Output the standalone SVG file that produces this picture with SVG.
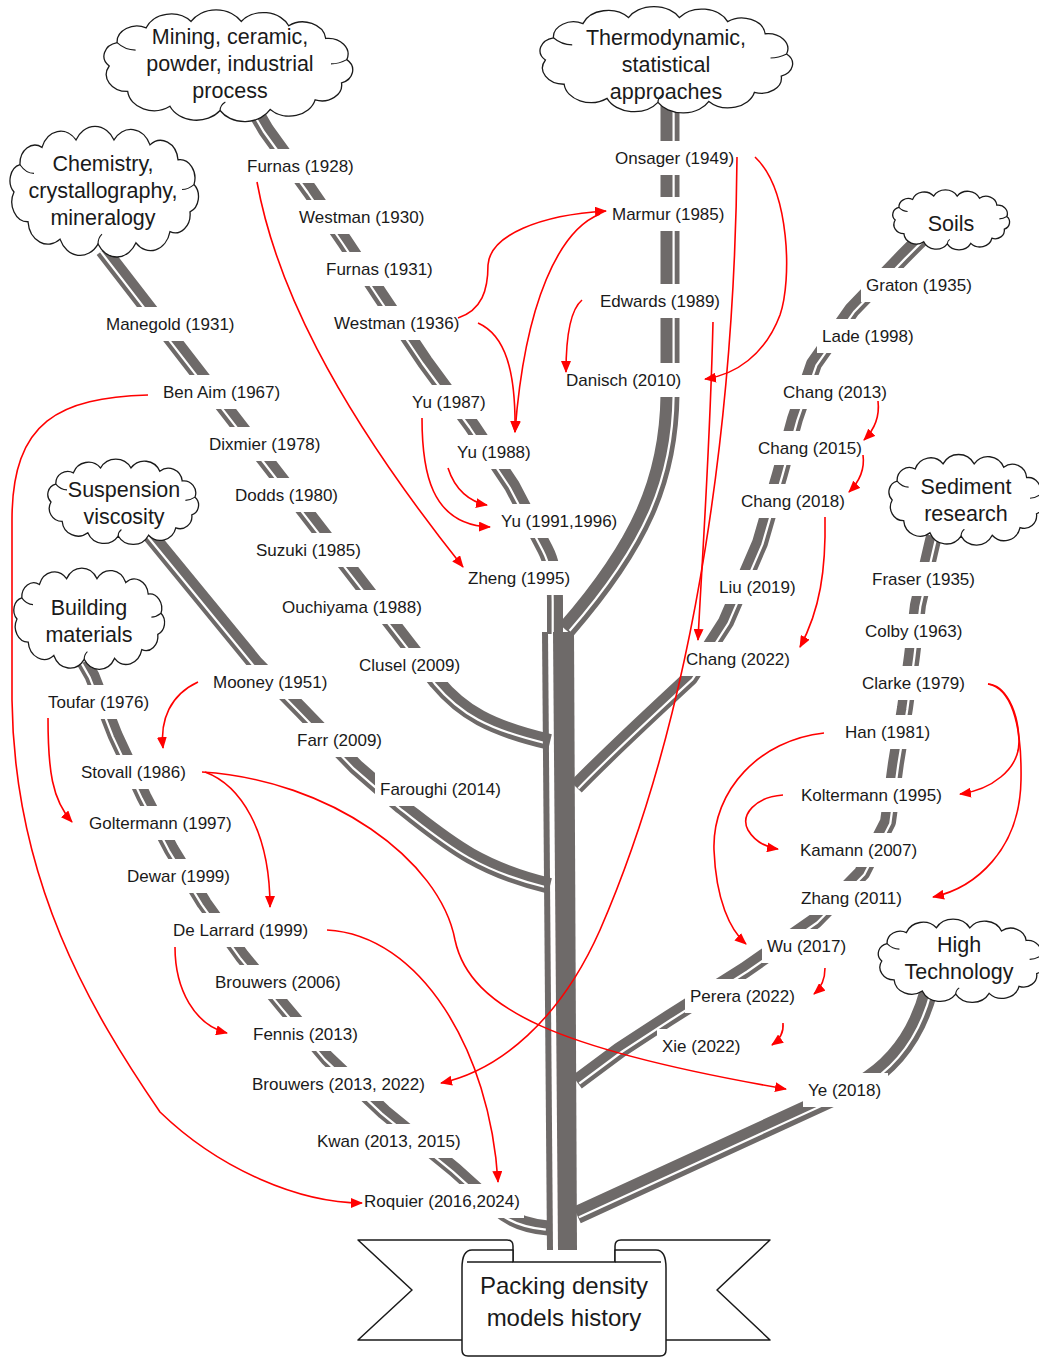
<svg xmlns="http://www.w3.org/2000/svg" width="1039" height="1358" viewBox="0 0 1039 1358">
<style>
.br{fill:none;stroke:#6e6a69;stroke-linejoin:round;stroke-linecap:butt}
.gp{fill:none;stroke:#fff;stroke-width:2.2;stroke-linejoin:round}
.tr{fill:#6e6a69}
.lb{fill:#fff}
.t{font-family:"Liberation Sans",Arial,sans-serif;font-size:17px;fill:#1a1a1a}
.ct{font-family:"Liberation Sans",Arial,sans-serif;font-size:21.5px;fill:#1a1a1a;text-anchor:middle}
.bt{font-family:"Liberation Sans",Arial,sans-serif;font-size:24px;fill:#1a1a1a;text-anchor:middle}
.cl{fill:#fff;stroke:#1a1a1a;stroke-width:1.3;vector-effect:non-scaling-stroke}
.cli{fill:none;stroke:#1a1a1a;stroke-width:1.1;vector-effect:non-scaling-stroke}
.bn{fill:#fff;stroke:#1a1a1a;stroke-width:1.5;stroke-linejoin:round}
.ar{fill:none;stroke:#f00;stroke-width:1.6;marker-end:url(#ah)}
</style>
<defs>
<marker id="ah" viewBox="0 0 12 10" refX="11" refY="5" markerWidth="12" markerHeight="10" markerUnits="userSpaceOnUse" orient="auto"><path d="M0,0 L12,5 L0,10 z" fill="#f00"/></marker>
<path id="cloud" class="cl" d="M-90,0 A13,13 0 0 1 -84,-22 A15,15 0 0 1 -62,-36 A20,20 0 0 1 -28,-42 A22,22 0 0 1 10,-42 A21,21 0 0 1 46,-38 A17.5,17.5 0 0 1 74,-26 A15,15 0 0 1 90,-6 A13,13 0 0 1 86,16 A15,15 0 0 1 66,32 A20,20 0 0 1 32,41 A22,22 0 0 1 -6,42 A22,22 0 0 1 -44,38 A20,20 0 0 1 -76,24 A16,16 0 0 1 -90,0 Z"/>
<path id="cloudin" class="cli" d="M-84,-22 Q-78,-15 -70,-15 M90,-6 Q84,-2 78,-2 M-6,42 Q-6,37 -2,34"/>
</defs>
<rect width="1039" height="1358" fill="#fff"/>

<g id="branches">
<path class="br" stroke-width="16" d="M252,106 L266,130 L310,191 L345,242 L380,295 L425,362 L472,426 L512,486 L545,549 Q555,568 555,600 L555,634"/>
<path class="br" stroke-width="16" d="M103,250 L437,682 C462,712 490,728 550,742"/>
<path class="br" stroke-width="16" d="M146,530 L255,663 L302,711 L356,767 L401,806 C445,840 475,868 550,886"/>
<path class="br" stroke-width="15" d="M84,662 L92,676 L115,735 L144,797 L171,849 L204,903 L242,956 L284,1007 L327,1058 L384,1112 L455,1170 L497,1208 Q515,1225 548,1228"/>
<path class="br" stroke-width="19" d="M670,105 L670,395 C669,480 640,545 566,630"/>
<path class="br" stroke-width="16" d="M922,238 L903,257 L852,310 L814,364 L795,419 L780,474 L760,543 L726,622 L690,678 C650,715 610,752 576,787"/>
<path class="br" stroke-width="16" d="M934,536 L930,553 L918,605 L912,656 L905,708 L896,763 L888,822 L862,873 L815,921 L745,970 L669,1018 L620,1050 L577,1082"/>
<path class="br" stroke-width="18" d="M929,990 Q912,1055 860,1085 L577,1215"/>
<path class="gp" transform="translate(-2.3,1.5)" d="M252,106 L266,130 L310,191 L345,242 L380,295 L425,362 L472,426 L512,486 L545,549 Q555,568 555,600 L555,634"/>
<path class="gp" transform="translate(-2.2,1.7)" d="M103,250 L437,682 C462,712 490,728 550,742"/>
<path class="gp" transform="translate(-2.2,1.7)" d="M146,530 L255,663 L302,711 L356,767 L401,806 C445,840 475,868 550,886"/>
<path class="gp" transform="translate(-2.2,1.6)" d="M84,662 L92,676 L115,735 L144,797 L171,849 L204,903 L242,956 L284,1007 L327,1058 L384,1112 L455,1170 L497,1208 Q515,1225 548,1228"/>
<path class="gp" transform="translate(3.6,0.8)" d="M670,105 L670,395 C669,480 640,545 566,630"/>
<path class="gp" transform="translate(2.4,1.4)" d="M922,238 L903,257 L852,310 L814,364 L795,419 L780,474 L760,543 L726,622 L690,678 C650,715 610,752 576,787"/>
<path class="gp" transform="translate(2.3,1.5)" d="M934,536 L930,553 L918,605 L912,656 L905,708 L896,763 L888,822 L862,873 L815,921 L745,970 L669,1018 L620,1050 L577,1082"/>
<path class="gp" transform="translate(2,2.2)" d="M929,990 Q912,1055 860,1085 L577,1215"/>
<path class="tr" d="M542,632 L548,632 L553,1250 L547,1250 Z"/>
<path class="tr" d="M553,632 L574,632 L577,1250 L558,1250 Z"/>
</g>

<g id="cloud-mining"><use href="#cloud" transform="translate(228,66) scale(1.32,1.06)"/><use href="#cloudin" transform="translate(228,66) scale(1.32,1.06)"/>
<text class="ct" x="230" y="44">Mining, ceramic,</text><text class="ct" x="230" y="71">powder, industrial</text><text class="ct" x="230" y="98">process</text></g>
<g id="cloud-thermo"><use href="#cloud" transform="translate(666,60) scale(1.34,1.01)"/><use href="#cloudin" transform="translate(666,60) scale(1.34,1.01)"/>
<text class="ct" x="666" y="45">Thermodynamic,</text><text class="ct" x="666" y="72">statistical</text><text class="ct" x="666" y="99">approaches</text></g>
<g id="cloud-chemistry"><use href="#cloud" transform="translate(104,192) scale(1.0,1.24)"/><use href="#cloudin" transform="translate(104,192) scale(1.0,1.24)"/>
<text class="ct" x="103" y="171">Chemistry,</text><text class="ct" x="103" y="198">crystallography,</text><text class="ct" x="103" y="225">mineralogy</text></g>
<g id="cloud-soils"><use href="#cloud" transform="translate(951,220) scale(0.62,0.57)"/><use href="#cloudin" transform="translate(951,220) scale(0.62,0.57)"/>
<text class="ct" x="951" y="231">Soils</text></g>
<g id="cloud-sediment"><use href="#cloud" transform="translate(966,500) scale(0.82,0.86)"/><use href="#cloudin" transform="translate(966,500) scale(0.82,0.86)"/>
<text class="ct" x="966" y="494">Sediment</text><text class="ct" x="966" y="521">research</text></g>
<g id="cloud-suspension"><use href="#cloud" transform="translate(123,502) scale(0.8,0.81)"/><use href="#cloudin" transform="translate(123,502) scale(0.8,0.81)"/>
<text class="ct" x="124" y="497">Suspension</text><text class="ct" x="124" y="524">viscosity</text></g>
<g id="cloud-building"><use href="#cloud" transform="translate(89,619) scale(0.8,0.96)"/><use href="#cloudin" transform="translate(89,619) scale(0.8,0.96)"/>
<text class="ct" x="89" y="615">Building</text><text class="ct" x="89" y="642">materials</text></g>
<g id="cloud-hightech"><use href="#cloud" transform="translate(961,961) scale(0.88,0.79)"/><use href="#cloudin" transform="translate(961,961) scale(0.88,0.79)"/>
<text class="ct" x="959" y="952">High</text><text class="ct" x="959" y="979">Technology</text></g>

<g id="n-furnas1928"><rect class="lb" x="242" y="149" width="115" height="34"/><text class="t" x="247" y="172">Furnas (1928)</text></g>
<g id="n-westman1930"><rect class="lb" x="294" y="200" width="134" height="34"/><text class="t" x="299" y="223">Westman (1930)</text></g>
<g id="n-furnas1931"><rect class="lb" x="321" y="252" width="116" height="34"/><text class="t" x="326" y="275">Furnas (1931)</text></g>
<g id="n-westman1936"><rect class="lb" x="329" y="306" width="134" height="34"/><text class="t" x="334" y="329">Westman (1936)</text></g>
<g id="n-yu1987"><rect class="lb" x="407" y="385" width="84" height="34"/><text class="t" x="412" y="408">Yu (1987)</text></g>
<g id="n-yu1988"><rect class="lb" x="452" y="435" width="84" height="34"/><text class="t" x="457" y="458">Yu (1988)</text></g>
<g id="n-yu1991"><rect class="lb" x="496" y="504" width="126" height="34"/><text class="t" x="501" y="527">Yu (1991,1996)</text></g>
<g id="n-zheng1995"><rect class="lb" x="463" y="561" width="112" height="34"/><text class="t" x="468" y="584">Zheng (1995)</text></g>
<g id="n-manegold1931"><rect class="lb" x="101" y="307" width="138" height="34"/><text class="t" x="106" y="330">Manegold (1931)</text></g>
<g id="n-benaim1967"><rect class="lb" x="158" y="375" width="127" height="34"/><text class="t" x="163" y="398">Ben Aim (1967)</text></g>
<g id="n-dixmier1978"><rect class="lb" x="204" y="427" width="121" height="34"/><text class="t" x="209" y="450">Dixmier (1978)</text></g>
<g id="n-dodds1980"><rect class="lb" x="230" y="478" width="113" height="34"/><text class="t" x="235" y="501">Dodds (1980)</text></g>
<g id="n-suzuki1985"><rect class="lb" x="251" y="533" width="114" height="34"/><text class="t" x="256" y="556">Suzuki (1985)</text></g>
<g id="n-ouchiyama1988"><rect class="lb" x="277" y="590" width="148" height="34"/><text class="t" x="282" y="613">Ouchiyama (1988)</text></g>
<g id="n-clusel2009"><rect class="lb" x="354" y="648" width="110" height="34"/><text class="t" x="359" y="671">Clusel (2009)</text></g>
<g id="n-mooney1951"><rect class="lb" x="208" y="665" width="124" height="34"/><text class="t" x="213" y="688">Mooney (1951)</text></g>
<g id="n-farr2009"><rect class="lb" x="292" y="723" width="95" height="34"/><text class="t" x="297" y="746">Farr (2009)</text></g>
<g id="n-faroughi2014"><rect class="lb" x="375" y="772" width="130" height="34"/><text class="t" x="380" y="795">Faroughi (2014)</text></g>
<g id="n-toufar1976"><rect class="lb" x="43" y="685" width="113" height="34"/><text class="t" x="48" y="708">Toufar (1976)</text></g>
<g id="n-stovall1986"><rect class="lb" x="76" y="755" width="115" height="34"/><text class="t" x="81" y="778">Stovall (1986)</text></g>
<g id="n-goltermann1997"><rect class="lb" x="84" y="806" width="151" height="34"/><text class="t" x="89" y="829">Goltermann (1997)</text></g>
<g id="n-dewar1999"><rect class="lb" x="122" y="859" width="112" height="34"/><text class="t" x="127" y="882">Dewar (1999)</text></g>
<g id="n-delarrard1999"><rect class="lb" x="168" y="913" width="144" height="34"/><text class="t" x="173" y="936">De Larrard (1999)</text></g>
<g id="n-brouwers2006"><rect class="lb" x="210" y="965" width="135" height="34"/><text class="t" x="215" y="988">Brouwers (2006)</text></g>
<g id="n-fennis2013"><rect class="lb" x="248" y="1017" width="115" height="34"/><text class="t" x="253" y="1040">Fennis (2013)</text></g>
<g id="n-brouwers2013"><rect class="lb" x="247" y="1067" width="182" height="34"/><text class="t" x="252" y="1090">Brouwers (2013, 2022)</text></g>
<g id="n-kwan2013"><rect class="lb" x="312" y="1124" width="153" height="34"/><text class="t" x="317" y="1147">Kwan (2013, 2015)</text></g>
<g id="n-roquier2016"><rect class="lb" x="359" y="1184" width="165" height="34"/><text class="t" x="364" y="1207">Roquier (2016,2024)</text></g>
<g id="n-onsager1949"><rect class="lb" x="610" y="141" width="128" height="34"/><text class="t" x="615" y="164">Onsager (1949)</text></g>
<g id="n-marmur1985"><rect class="lb" x="607" y="197" width="122" height="34"/><text class="t" x="612" y="220">Marmur (1985)</text></g>
<g id="n-edwards1989"><rect class="lb" x="595" y="284" width="129" height="34"/><text class="t" x="600" y="307">Edwards (1989)</text></g>
<g id="n-danisch2010"><rect class="lb" x="561" y="363" width="124" height="34"/><text class="t" x="566" y="386">Danisch (2010)</text></g>
<g id="n-graton1935"><rect class="lb" x="861" y="268" width="115" height="34"/><text class="t" x="866" y="291">Graton (1935)</text></g>
<g id="n-lade1998"><rect class="lb" x="817" y="319" width="102" height="34"/><text class="t" x="822" y="342">Lade (1998)</text></g>
<g id="n-chang2013"><rect class="lb" x="778" y="375" width="113" height="34"/><text class="t" x="783" y="398">Chang (2013)</text></g>
<g id="n-chang2015"><rect class="lb" x="753" y="431" width="114" height="34"/><text class="t" x="758" y="454">Chang (2015)</text></g>
<g id="n-chang2018"><rect class="lb" x="736" y="484" width="114" height="34"/><text class="t" x="741" y="507">Chang (2018)</text></g>
<g id="n-liu2019"><rect class="lb" x="714" y="570" width="87" height="34"/><text class="t" x="719" y="593">Liu (2019)</text></g>
<g id="n-chang2022"><rect class="lb" x="681" y="642" width="114" height="34"/><text class="t" x="686" y="665">Chang (2022)</text></g>
<g id="n-fraser1935"><rect class="lb" x="867" y="562" width="112" height="34"/><text class="t" x="872" y="585">Fraser (1935)</text></g>
<g id="n-colby1963"><rect class="lb" x="860" y="614" width="107" height="34"/><text class="t" x="865" y="637">Colby (1963)</text></g>
<g id="n-clarke1979"><rect class="lb" x="857" y="666" width="112" height="34"/><text class="t" x="862" y="689">Clarke (1979)</text></g>
<g id="n-han1981"><rect class="lb" x="840" y="715" width="95" height="34"/><text class="t" x="845" y="738">Han (1981)</text></g>
<g id="n-koltermann1995"><rect class="lb" x="796" y="778" width="150" height="34"/><text class="t" x="801" y="801">Koltermann (1995)</text></g>
<g id="n-kamann2007"><rect class="lb" x="795" y="833" width="126" height="34"/><text class="t" x="800" y="856">Kamann (2007)</text></g>
<g id="n-zhang2011"><rect class="lb" x="796" y="881" width="111" height="34"/><text class="t" x="801" y="904">Zhang (2011)</text></g>
<g id="n-wu2017"><rect class="lb" x="762" y="929" width="89" height="34"/><text class="t" x="767" y="952">Wu (2017)</text></g>
<g id="n-perera2022"><rect class="lb" x="685" y="979" width="115" height="34"/><text class="t" x="690" y="1002">Perera (2022)</text></g>
<g id="n-xie2022"><rect class="lb" x="657" y="1029" width="88" height="34"/><text class="t" x="662" y="1052">Xie (2022)</text></g>
<g id="n-ye2018"><rect class="lb" x="803" y="1073" width="85" height="34"/><text class="t" x="808" y="1096">Ye (2018)</text></g>

<g id="banner">
<path class="bn" d="M513,1262 L513,1246 Q513,1240 507,1240 L358,1240 L412,1290 L358,1340 L462,1340"/>
<path class="bn" d="M615,1262 L615,1246 Q615,1240 621,1240 L770,1240 L717,1290 L770,1340 L666,1340"/>
<path class="bn" d="M462,1268 Q462,1250 472,1250 L513,1250 L513,1262 L615,1262 L615,1250 L656,1250 Q666,1250 666,1268 L666,1350 Q666,1356 660,1356 L468,1356 Q462,1356 462,1350 Z"/>
<path class="bn" fill="none" d="M467,1262 L513,1262 M615,1262 L661,1262"/>
<text class="bt" x="564" y="1294">Packing density</text>
<text class="bt" x="564" y="1326">models history</text>
</g>

<g id="connectors">
<path class="ar" stroke-width="1" d="M257,182 C275,280 330,400 463,567"/>
<path class="ar" d="M458,318 C482,310 488,290 488,265 C490,235 540,215 606,211"/>
<path class="ar" d="M478,323 C505,335 516,370 515,432"/>
<path class="ar" d="M600,214 C560,230 525,300 515,432"/>
<path class="ar" d="M422,418 C422,470 430,525 490,527"/>
<path class="ar" d="M448,468 C455,490 470,502 487,505"/>
<path class="ar" d="M755,157 C790,190 792,280 780,315 C765,355 735,375 705,379"/>
<path class="ar" d="M737,157 C735,400 700,700 600,930 C560,1020 500,1070 441,1083"/>
<path class="ar" d="M713,322 C710,450 702,560 698,640"/>
<path class="ar" d="M582,300 C570,310 566,340 566,372"/>
<path class="ar" d="M878,401 C880,418 874,430 864,440"/>
<path class="ar" d="M863,455 C865,470 858,483 849,492"/>
<path class="ar" d="M825,517 C826,570 820,610 800,647"/>
<path class="ar" d="M988,684 C1005,685 1018,710 1019,740 C1020,770 990,790 960,794"/>
<path class="ar" d="M988,684 C1010,688 1022,720 1021,780 C1020,850 975,888 933,897"/>
<path class="ar" d="M824,733 C760,740 712,790 714,850 C716,900 730,930 746,944"/>
<path class="ar" d="M783,795 C755,797 740,815 748,830 C755,842 765,847 778,849"/>
<path class="ar" d="M825,968 C825,980 821,988 814,994"/>
<path class="ar" d="M783,1023 C784,1033 779,1040 772,1045"/>
<path class="ar" d="M202,772 C330,780 440,860 455,940 C470,1010 560,1050 786,1089"/>
<path class="ar" d="M205,772 C240,785 270,830 270,907"/>
<path class="ar" d="M198,682 C170,695 160,720 163,748"/>
<path class="ar" d="M48,718 C48,770 52,800 72,822"/>
<path class="ar" d="M148,395 C60,398 12,420 12,520 L12,700 C14,880 90,1010 160,1112 C220,1170 300,1203 362,1203"/>
<path class="ar" d="M327,930 C420,935 490,1050 498,1182"/>
<path class="ar" d="M175,947 C175,990 195,1025 227,1033"/>
</g>
</svg>
